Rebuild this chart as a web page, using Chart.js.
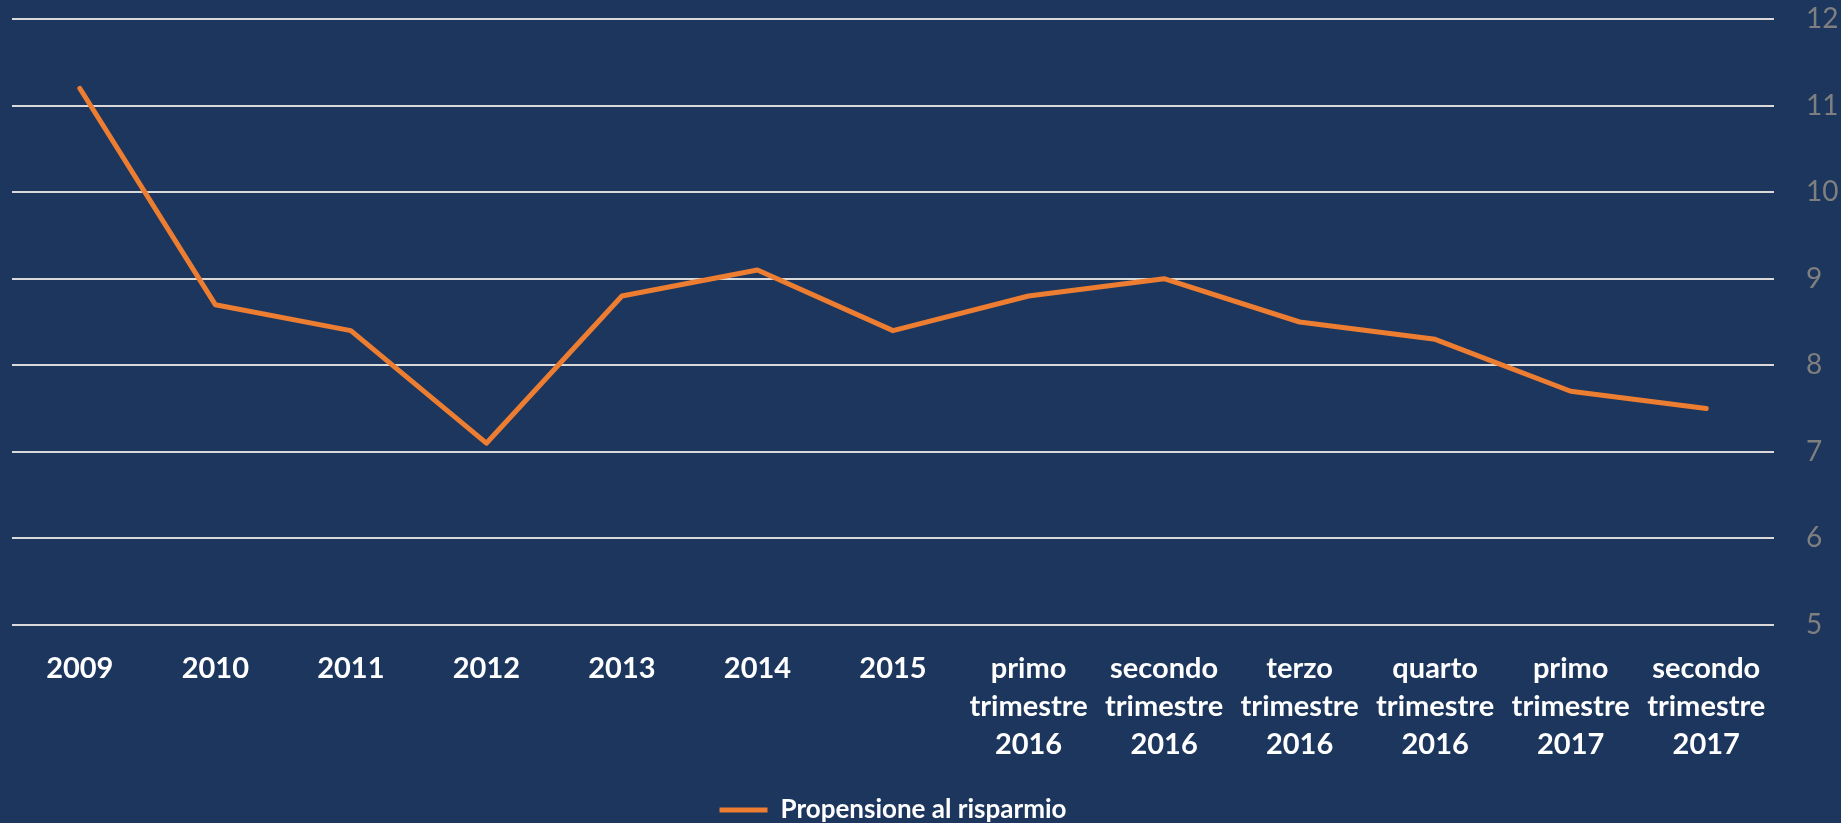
<!DOCTYPE html>
<html>
<head>
<meta charset="utf-8">
<script src="https://cdn.jsdelivr.net/npm/chart.js@4/dist/chart.umd.min.js"></script>
<style>
html,body{margin:0;padding:0;background:#1c365e;}
#wrap{width:1841px;height:823px;}
</style>
</head>
<body>
<div id="wrap"><canvas id="c" width="1841" height="823"></canvas></div>
<script>
const categories = [
  "2009","2010","2011","2012","2013","2014","2015",
  ["primo","trimestre","2016"],
  ["secondo","trimestre","2016"],
  ["terzo","trimestre","2016"],
  ["quarto","trimestre","2016"],
  ["primo","trimestre","2017"],
  ["secondo","trimestre","2017"]
];
const seriesName = "Propensione al risparmio";
const values = [11.2, 8.7, 8.4, 7.1, 8.8, 9.1, 8.4, 8.8, 9.0, 8.5, 8.3, 7.7, 7.5];
const yTicks = [5, 6, 7, 8, 9, 10, 11, 12];

new Chart(document.getElementById('c'), {
  type: 'line',
  data: {
    labels: categories,
    datasets: [{
      label: seriesName,
      data: values,
      borderColor: '#ed7d31',
      backgroundColor: '#ed7d31',
      borderWidth: 5,
      pointRadius: 0,
      tension: 0,
      borderCapStyle: 'round',
      borderJoinStyle: 'round'
    }]
  },
  options: {
    responsive: false,
    animation: false,
    layout: { padding: { top: 19, left: 12, right: 0, bottom: -10 } },
    scales: {
      x: {
        offset: true,
        grid: { display: false },
        border: { display: false },
        ticks: {
          color: '#ffffff',
          font: { family: 'Lato', weight: 'bold', size: 29, lineHeight: 1.31 },
          maxRotation: 0,
          autoSkip: false,
          padding: 17
        },
        afterFit: (axis) => { axis.height = 162; axis.paddingLeft = 0; axis.paddingRight = 0; }
      },
      y: {
        position: 'right',
        min: 5, max: 12,
        afterBuildTicks: (axis) => { axis.ticks = yTicks.map(v => ({ value: v })); },
        grid: { color: '#d9d9d9', lineWidth: 2, drawTicks: false },
        border: { display: false },
        ticks: {
          color: '#7f7f7f',
          font: { family: 'Lato', size: 28 },
          padding: 32
        },
        afterFit: (axis) => { axis.width = 67; axis.paddingTop = 0; axis.paddingBottom = 0; }
      }
    },
    plugins: {
      legend: {
        position: 'bottom',
        fullSize: false,
        labels: {
          color: '#ffffff',
          font: { family: 'Lato', weight: 'bold', size: 26 },
          usePointStyle: true,
          pointStyle: 'line',
          pointStyleWidth: 48,
          boxWidth: 48,
          padding: 10
        }
      },
      tooltip: { enabled: false }
    }
  }
});
</script>
</body>
</html>
